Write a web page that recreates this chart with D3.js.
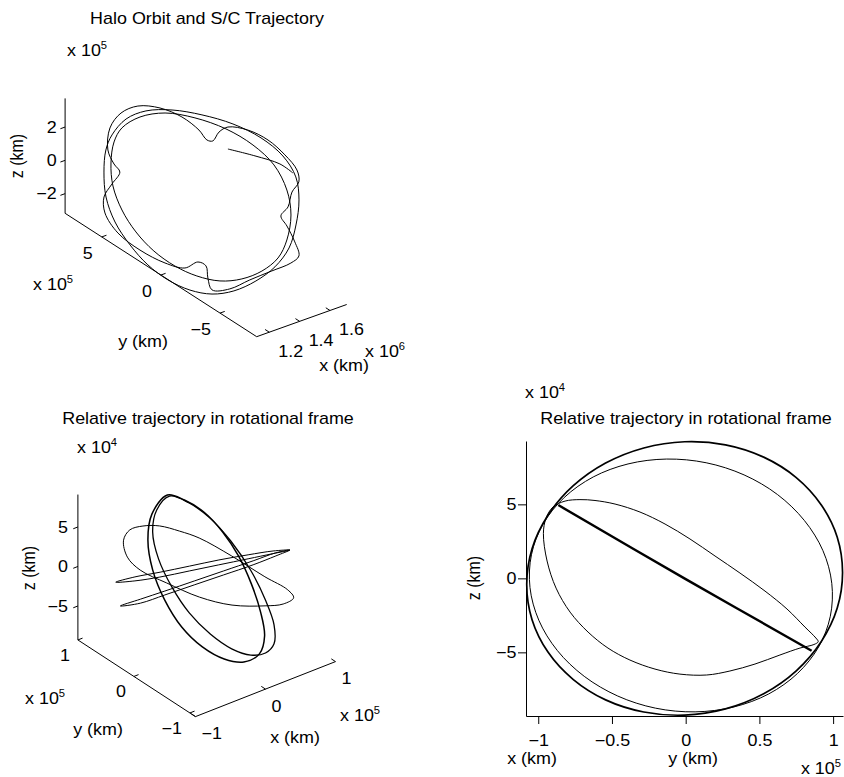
<!DOCTYPE html>
<html>
<head>
<meta charset="utf-8">
<script src="https://cdn.jsdelivr.net/npm/d3@7"></script>
<style>
  body { margin: 0; background: #fff; }
  svg { display: block; }
  text { font-family: "Liberation Sans", Arial, Helvetica, sans-serif; fill: #000; }
</style>
</head>
<body>
<div id="chart"></div>
<script>
// Halo orbit panel: x in 1e6 km, y and z in 1e5 km
const haloXTicks = [1.2, 1.4, 1.6];
const haloYTicks = [-5, 0, 5];
const haloZTicks = [-2, 0, 2];

const haloLoopA = [
  [1.453, 8.62, 0.61], [1.518, 8.52, 1.34], [1.570, 7.76, 1.94], [1.606, 6.35, 2.35],
  [1.621, 4.69, 2.52], [1.615, 3.17, 2.45], [1.601, 2.32, 2.29], [1.609, 1.92, 2.39],
  [1.647, 1.89, 2.81], [1.679, 1.54, 3.17], [1.707, 0.22, 3.50], [1.716, -1.37, 3.60],
  [1.704, -2.95, 3.47], [1.683, -4.24, 3.22], [1.651, -4.81, 2.87], [1.609, -4.77, 2.38],
  [1.558, -5.09, 1.80], [1.518, -5.00, 1.35], [1.500, -5.74, 1.14], [1.468, -6.82, 0.78],
  [1.435, -7.59, 0.40], [1.399, -7.37, -0.01], [1.340, -6.52, -0.68], [1.272, -5.53, -1.45],
  [1.208, -4.66, -2.18], [1.172, -3.62, -2.60], [1.199, -2.92, -2.29], [1.231, -2.35, -1.93],
  [1.227, -1.72, -1.97], [1.185, -1.16, -2.45], [1.162, 0.23, -2.71], [1.153, 2.23, -2.82],
  [1.161, 4.20, -2.72], [1.195, 5.73, -2.33], [1.240, 6.39, -1.82], [1.293, 6.40, -1.22],
  [1.343, 6.37, -0.65], [1.356, 7.03, -0.51], [1.385, 7.92, -0.17]
];
const haloLoopB = [
  [1.437, 8.24, 0.42], [1.510, 7.99, 1.25], [1.571, 7.09, 1.95], [1.623, 5.55, 2.54],
  [1.665, 3.56, 3.02], [1.697, 1.35, 3.38], [1.709, -0.87, 3.52], [1.697, -2.87, 3.39],
  [1.660, -4.44, 2.97], [1.599, -5.49, 2.27], [1.520, -6.25, 1.37], [1.440, -6.69, 0.45],
  [1.358, -6.55, -0.48], [1.281, -5.93, -1.36], [1.210, -4.98, -2.16], [1.160, -3.77, -2.74],
  [1.130, -2.29, -3.08], [1.118, -0.58, -3.21], [1.124, 1.19, -3.14], [1.149, 3.02, -2.86],
  [1.188, 4.79, -2.42], [1.244, 6.27, -1.78], [1.313, 7.33, -0.99], [1.381, 8.04, -0.21]
];
const haloLoopC = [
  [1.476, 7.90, 0.87], [1.542, 7.22, 1.62], [1.601, 5.86, 2.29], [1.643, 3.87, 2.77],
  [1.669, 1.58, 3.07], [1.673, -0.65, 3.11], [1.654, -2.67, 2.90], [1.605, -4.39, 2.34],
  [1.540, -5.57, 1.59], [1.459, -6.26, 0.67], [1.390, -6.40, -0.12], [1.321, -5.92, -0.90],
  [1.260, -5.01, -1.59], [1.213, -3.76, -2.13], [1.184, -2.18, -2.46], [1.172, -0.48, -2.60],
  [1.176, 1.35, -2.55], [1.198, 3.15, -2.30], [1.236, 4.82, -1.87], [1.289, 6.26, -1.26],
  [1.353, 7.25, -0.54], [1.420, 7.85, 0.23]
];
const scStart = [
  [1.614, 0.71, 2.44], [1.645, -1.18, 2.79], [1.668, -2.99, 3.06], [1.666, -4.11, 3.04]
];

// Relative trajectory, 3D view: x and y in 1e5 km, z in 1e4 km
const relXTicks = [-1, 0, 1];
const relYTicks = [-1, 0, 1];
const relZTicks = [-5, 0, 5];

const tallLoop1 = [
  [-0.154, 0.46, 8.60], [-0.015, 0.33, 8.07], [0.135, 0.17, 6.78], [0.260, -0.01, 4.65],
  [0.350, -0.18, 2.08], [0.406, -0.34, -0.91], [0.426, -0.48, -3.90], [0.411, -0.57, -6.46],
  [0.329, -0.58, -8.39], [0.171, -0.50, -9.24], [0.002, -0.36, -8.92], [-0.166, -0.18, -7.64],
  [-0.309, 0.01, -5.50], [-0.401, 0.20, -2.62], [-0.444, 0.36, 0.59], [-0.424, 0.47, 3.79],
  [-0.335, 0.51, 6.57]
];
const tallLoop2 = [
  [-0.139, 0.44, 8.49], [0.022, 0.29, 7.75], [0.175, 0.11, 6.14], [0.312, -0.09, 3.69],
  [0.426, -0.30, 0.59], [0.495, -0.48, -2.62], [0.522, -0.60, -5.29], [0.482, -0.65, -7.32],
  [0.384, -0.62, -8.28], [0.248, -0.53, -8.49], [0.093, -0.38, -7.85], [-0.069, -0.20, -6.25],
  [-0.209, 0.00, -4.01], [-0.312, 0.18, -1.23], [-0.368, 0.35, 1.76], [-0.364, 0.46, 4.65],
  [-0.282, 0.49, 7.00]
];
const tiltLoop = [
  [-0.644, 0.63, 3.79], [-0.562, 0.62, 4.86], [-0.439, 0.54, 5.29], [-0.290, 0.43, 5.29],
  [-0.124, 0.28, 4.75], [0.037, 0.13, 4.01], [0.289, -0.13, 2.08], [0.543, -0.41, -0.16],
  [0.718, -0.60, -1.55], [0.754, -0.66, -2.40], [0.645, -0.61, -3.04], [0.482, -0.49, -3.26],
  [0.186, -0.27, -3.15], [-0.087, -0.03, -2.30], [-0.348, 0.23, -0.80], [-0.558, 0.44, 0.59],
  [-0.645, 0.56, 1.98]
];
const flatLoop1 = [
  [-0.803, 0.57, -0.69], [-0.617, 0.46, -0.16], [-0.386, 0.30, 0.37], [-0.110, 0.12, 1.01],
  [0.166, -0.06, 1.66], [0.440, -0.24, 2.19], [0.668, -0.40, 2.62], [0.820, -0.51, 2.72],
  [0.662, -0.40, 2.30], [0.432, -0.25, 1.76], [0.156, -0.07, 1.12], [-0.121, 0.11, 0.48],
  [-0.397, 0.29, -0.16], [-0.625, 0.45, -0.59]
];
const flatLoop2 = [
  [-0.809, 0.48, -3.26], [-0.619, 0.36, -2.51], [-0.382, 0.22, -1.66], [-0.098, 0.05, -0.59],
  [0.187, -0.12, 0.48], [0.472, -0.29, 1.55], [0.690, -0.42, 2.40], [0.820, -0.51, 2.72],
  [0.684, -0.43, 2.08], [0.463, -0.30, 1.12], [0.178, -0.13, 0.05], [-0.106, 0.04, -1.01],
  [-0.391, 0.21, -2.08], [-0.627, 0.35, -2.94]
];

// Relative trajectory, side view: y in 1e5 km, z in 1e4 km
const sideYTicks = [-1, -0.5, 0, 0.5, 1];
const sideZTicks = [-5, 0, 5];

const sideOuter = [
  [1.064, 0.40], [1.028, 2.78], [0.920, 4.96], [0.750, 6.81], [0.529, 8.19], [0.270, 9.02],
  [-0.007, 9.23], [-0.284, 8.81], [-0.543, 7.79], [-0.764, 6.24], [-0.934, 4.26], [-1.042, 2.00],
  [-1.078, -0.41], [-1.042, -2.79], [-0.934, -4.98], [-0.764, -6.82], [-0.543, -8.21], [-0.284, -9.03],
  [-0.007, -9.24], [0.270, -8.82], [0.529, -7.80], [0.750, -6.25], [0.920, -4.27], [1.028, -2.01]
];
const sideSecond = [
  [0.991, -0.34], [0.931, 1.87], [0.805, 3.91], [0.623, 5.66], [0.396, 6.99], [0.139, 7.81],
  [-0.129, 8.06], [-0.391, 7.73], [-0.627, 6.85], [-0.824, 5.46], [-0.967, 3.67], [-1.046, 1.60],
  [-1.056, -0.62], [-0.996, -2.83], [-0.871, -4.87], [-0.688, -6.62], [-0.461, -7.95], [-0.205, -8.77],
  [0.064, -9.02], [0.326, -8.69], [0.563, -7.81], [0.759, -6.42], [0.902, -4.63], [0.981, -2.56]
];
const sideInner = [
  [-0.965, 3.04], [-0.947, 4.07], [-0.900, 4.82], [-0.818, 5.22], [-0.717, 5.32], [-0.615, 5.26],
  [-0.479, 5.02], [-0.310, 4.48], [-0.140, 3.67], [0.029, 2.66], [0.199, 1.51], [0.368, 0.36],
  [0.538, -0.86], [0.687, -2.07], [0.809, -3.29], [0.883, -4.03], [0.899, -4.28], [0.870, -4.47],
  [0.775, -4.71], [0.639, -5.18], [0.470, -5.79], [0.300, -6.26], [0.142, -6.53], [-0.039, -6.47],
  [-0.208, -6.13], [-0.378, -5.52], [-0.527, -4.71], [-0.662, -3.63], [-0.784, -2.28], [-0.879, -0.66],
  [-0.940, 1.17]
];
const sideLine = [[-0.864, 4.95], [0, -0.05], [0.854, -4.89]];


const width = 844, height = 777;
const fontSize = 16, stretch = 1.12;
const fmt = d3.format("~g");

let svg = d3.select("#chart").append("svg")
    .attr("width", width)
    .attr("height", height)
    .attr("xmlns", "http://www.w3.org/2000/svg");

let addText = function(s, x, y, anchor, rotate, sup){
    /* MATLAB text looks a bit wide, so it is stretched sideways */
    let t = svg.append("text")
        .attr("transform", "translate(" + x + "," + y + ") scale(" + stretch + ",1)" + (rotate ? " rotate(-90)" : ""))
        .attr("text-anchor", anchor || "start")
        .attr("font-size", fontSize)
        .text(s);
    if(sup){
        t.append("tspan").attr("font-size", 10).attr("dy", -7).text(sup);
    }
    return t;
};

let unit = function(v){
    let n = Math.hypot(v[0], v[1]);
    return [v[0] / n, v[1] / n];
};

let draw3d = function(cfg){
    /* Box axes seen from the default 3-D view: each data axis maps to one edge vector */
    let sx = d3.scaleLinear().domain(cfg.domain[0]).range([0, 1]);
    let sy = d3.scaleLinear().domain(cfg.domain[1]).range([0, 1]);
    let sz = d3.scaleLinear().domain(cfg.domain[2]).range([0, 1]);
    let c0 = cfg.corner, ex = cfg.ex, ey = cfg.ey, ez = cfg.ez;
    let proj = function(p){
        let a = sx(p[0]), b = sy(p[1]), c = sz(p[2]);
        return [c0[0] + a * ex[0] + b * ey[0] + c * ez[0],
                c0[1] + a * ex[1] + b * ey[1] + c * ez[1]];
    };
    let xd = cfg.domain[0], yd = cfg.domain[1], zd = cfg.domain[2];
    let g = svg.append("g");

    let seg = function(a, b){
        g.append("line")
            .attr("x1", a[0]).attr("y1", a[1])
            .attr("x2", b[0]).attr("y2", b[1])
            .attr("stroke", "#000").attr("stroke-width", 1);
    };
    seg(proj([xd[0], yd[0], zd[0]]), proj([xd[1], yd[0], zd[0]]));
    seg(proj([xd[0], yd[0], zd[0]]), proj([xd[0], yd[1], zd[0]]));
    seg(proj([xd[0], yd[1], zd[0]]), proj([xd[0], yd[1], zd[1]]));

    let ux = unit(ex), uy = unit(ey), tl = 5;

    cfg.xTicks.forEach(function(v){
        let p = proj([v, yd[0], zd[0]]);
        seg(p, [p[0] + uy[0] * tl, p[1] + uy[1] * tl]);
        addText(fmt(v), p[0] + cfg.xLab[0], p[1] + cfg.xLab[1], "start").attr("dy", "0.35em");
    });
    cfg.yTicks.forEach(function(v){
        let p = proj([xd[0], v, zd[0]]);
        seg(p, [p[0] + ux[0] * tl, p[1] + ux[1] * tl]);
        addText(fmt(v), p[0] + cfg.yLab[0], p[1] + cfg.yLab[1], "end").attr("dy", "0.35em");
    });
    cfg.zTicks.forEach(function(v){
        let p = proj([xd[0], yd[1], v]);
        seg(p, [p[0] - ux[0] * tl, p[1] - ux[1] * tl]);
        addText(fmt(v), p[0] + cfg.zLab[0], p[1], "end").attr("dy", "0.35em");
    });

    let line = d3.line().curve(d3.curveCatmullRomClosed.alpha(0.5));
    let open = d3.line().curve(d3.curveCatmullRom.alpha(0.5));
    cfg.curves.forEach(function(c){
        g.append("path")
            .attr("d", (c.open ? open : line)(c.data.map(proj)))
            .attr("fill", "none")
            .attr("stroke", "#000")
            .attr("stroke-width", c.w)
            .attr("stroke-linejoin", "round");
    });
};

// top left: halo orbit
draw3d({
    domain: [[1.117, 1.71], [-8.1, 8.1], [-3.18, 3.72]],
    corner: [256.7, 336.7], ex: [90, -32.2], ey: [-191.6, -123.4], ez: [0, -114.9],
    xTicks: haloXTicks, yTicks: haloYTicks, zTicks: haloZTicks,
    xLab: [9, 19], yLab: [-9, 16], zLab: [-8.5, 0],
    curves: [
        {data: haloLoopA, w: 1},
        {data: haloLoopB, w: 1},
        {data: haloLoopC, w: 1},
        {data: scStart, w: 1, open: true}
    ]
});
addText("Halo Orbit and S/C Trajectory", 207, 24, "middle");
addText("x 10", 67, 56, "start", false, "5");
addText("z (km)", 23, 156, "middle", true);
addText("x 10", 33, 290, "start", false, "5");
addText("y (km)", 143, 347, "middle");
addText("x 10", 365, 357, "start", false, "6");
addText("x (km)", 344, 371, "middle");

// bottom left: relative trajectory in 3-D
draw3d({
    domain: [[-1, 1], [-1.1, 1.0], [-9.3, 9.1]],
    corner: [195.5, 716.6], ex: [140, -55], ey: [-117.6, -76.65], ez: [0, -145.4],
    xTicks: relXTicks, yTicks: relYTicks, zTicks: relZTicks,
    xLab: [6, 17], yLab: [-8, 15], zLab: [-10, 0],
    curves: [
        {data: tallLoop1, w: 1.5},
        {data: tallLoop2, w: 1.3},
        {data: tiltLoop, w: 1},
        {data: flatLoop1, w: 1},
        {data: flatLoop2, w: 1}
    ]
});
addText("Relative trajectory in rotational frame", 208, 424, "middle");
addText("x 10", 77, 453, "start", false, "4");
addText("z (km)", 35, 568, "middle", true);
addText("x 10", 25, 704, "start", false, "5");
addText("y (km)", 98, 735, "middle");
addText("x 10", 340, 721, "start", false, "5");
addText("x (km)", 295, 743, "middle");

// bottom right: side view (y against z)
let yS = d3.scaleLinear().domain([-1.083, 1.067]).range([526, 843]);
let zS = d3.scaleLinear().domain([-9.3, 9.28]).range([716, 441]);

let bAxis = svg.append("g")
    .attr("transform", "translate(0,716)")
    .call(d3.axisBottom(yS).tickValues(sideYTicks).tickFormat(fmt).tickSize(8).tickSizeOuter(0));
bAxis.selectAll("text")
    .attr("y", 0)
    .attr("transform", "translate(0,19) scale(" + stretch + ",1)")
    .attr("dy", "0.71em");

let lAxis = svg.append("g")
    .attr("transform", "translate(526,0)")
    .call(d3.axisLeft(zS).tickValues(sideZTicks).tickFormat(fmt).tickSize(8).tickSizeOuter(0));
lAxis.selectAll("text")
    .attr("x", 0)
    .attr("transform", "translate(-9.5,0) scale(" + stretch + ",1)");

[bAxis, lAxis].forEach(function(a){
    a.attr("font-size", fontSize).attr("font-family", null);
    a.selectAll("path, line").attr("stroke", "#000").attr("stroke-width", 1);
});

let sideLineGen = d3.line()
    .x(function(d){ return yS(d[0]); })
    .y(function(d){ return zS(d[1]); });

let sideCurves = [
    {data: sideSecond, w: 1, closed: true},
    {data: sideInner, w: 1, closed: true},
    {data: sideOuter, w: 1.7, closed: true},
    {data: sideLine, w: 2.4, closed: false}
];
sideCurves.forEach(function(c){
    svg.append("path")
        .datum(c.data)
        .attr("d", sideLineGen.curve(c.closed ? d3.curveCatmullRomClosed.alpha(0.5) : d3.curveCatmullRom.alpha(0.5)))
        .attr("fill", "none")
        .attr("stroke", "#000")
        .attr("stroke-width", c.w);
});

addText("x 10", 525, 398, "start", false, "4");
addText("Relative trajectory in rotational frame", 686, 424, "middle");
addText("z (km)", 480, 578, "middle", true);
addText("x (km)", 532, 764, "middle");
addText("y (km)", 693, 764, "middle");
addText("x 10", 841 / stretch * stretch, 774, "end", false, "5");
</script>
</body>
</html>
